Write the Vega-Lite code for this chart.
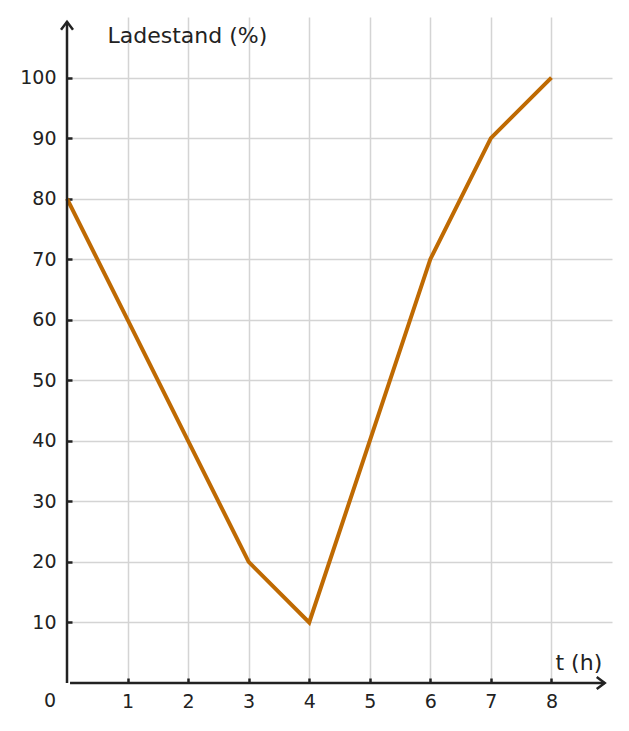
{
  "$schema": "https://vega.github.io/schema/vega-lite/v6.json",
  "width": 545,
  "height": 666,
  "autosize": "none",
  "padding": {"left": 67, "top": 17, "right": 17, "bottom": 48},
  "background": "white",
  "config": {
    "view": {"stroke": null},
    "font": "DejaVu Sans",
    "axis": {
      "labelFont": "DejaVu Sans",
      "labelFontSize": 19,
      "labelColor": "#222222",
      "titleFont": "DejaVu Sans",
      "titleFontSize": 22,
      "titleFontWeight": "normal",
      "titleColor": "#222222",
      "gridColor": "#d4d4d4",
      "gridWidth": 1.5,
      "domain": false,
      "tickColor": "#222222",
      "tickWidth": 2.5,
      "tickSize": -5
    }
  },
  "datasets": {
    "charge": [
      {"t": 0, "level": 80},
      {"t": 1, "level": 60},
      {"t": 2, "level": 40},
      {"t": 3, "level": 20},
      {"t": 4, "level": 10},
      {"t": 5, "level": 40},
      {"t": 6, "level": 70},
      {"t": 7, "level": 90},
      {"t": 8, "level": 100}
    ],
    "axislines": [
      {"x": 0.05, "x2": 8.88, "y": 0, "y2": 0, "dir": "x"},
      {"x": 0, "x2": 0, "y": 0, "y2": 109.2, "dir": "y"}
    ],
    "origin": [{"t": 0, "level": 0, "label": "0"}]
  },
  "layer": [
    {
      "data": {"name": "charge"},
      "mark": {"type": "line", "color": "#bf6a02", "strokeWidth": 4, "clip": false},
      "encoding": {
        "x": {
          "field": "t",
          "type": "quantitative",
          "scale": {"domain": [0, 9], "nice": false},
          "axis": {
            "values": [1, 2, 3, 4, 5, 6, 7, 8],
            "format": "d",
            "title": "t (h)",
            "titleAngle": 0,
            "titleAlign": "left",
            "titleBaseline": "middle",
            "titleX": 488,
            "titleY": -21,
            "labelPadding": 14
          }
        },
        "y": {
          "field": "level",
          "type": "quantitative",
          "scale": {"domain": [0, 110], "nice": false},
          "axis": {
            "values": [10, 20, 30, 40, 50, 60, 70, 80, 90, 100],
            "format": "d",
            "title": "Ladestand (%)",
            "titleAngle": 0,
            "titleAlign": "left",
            "titleBaseline": "middle",
            "titleX": 40,
            "titleY": 18,
            "labelPadding": 16
          }
        }
      }
    },
    {
      "data": {"name": "axislines"},
      "mark": {"type": "rule", "color": "#222222", "strokeWidth": 2.5},
      "encoding": {
        "x": {"field": "x", "type": "quantitative"},
        "x2": {"field": "x2"},
        "y": {"field": "y", "type": "quantitative"},
        "y2": {"field": "y2"}
      }
    },
    {
      "data": {"name": "axislines"},
      "transform": [{"filter": "datum.dir === 'x'"}],
      "mark": {
        "type": "point",
        "shape": "M-1,-0.75L0,0L-1,0.75",
        "size": 256,
        "filled": false,
        "stroke": "#222222",
        "strokeWidth": 2.5,
        "opacity": 1
      },
      "encoding": {
        "x": {"field": "x2", "type": "quantitative"},
        "y": {"field": "y", "type": "quantitative"}
      }
    },
    {
      "data": {"name": "axislines"},
      "transform": [{"filter": "datum.dir === 'y'"}],
      "mark": {
        "type": "point",
        "shape": "M-0.75,1L0,0L0.75,1",
        "size": 256,
        "filled": false,
        "stroke": "#222222",
        "strokeWidth": 2.5,
        "opacity": 1
      },
      "encoding": {
        "x": {"field": "x", "type": "quantitative"},
        "y": {"field": "y2", "type": "quantitative"}
      }
    },
    {
      "data": {"name": "origin"},
      "mark": {"type": "text", "fontSize": 19, "color": "#222222", "dx": -17, "dy": 18, "baseline": "middle", "align": "center"},
      "encoding": {
        "x": {"field": "t", "type": "quantitative"},
        "y": {"field": "level", "type": "quantitative"},
        "text": {"field": "label"}
      }
    }
  ]
}
